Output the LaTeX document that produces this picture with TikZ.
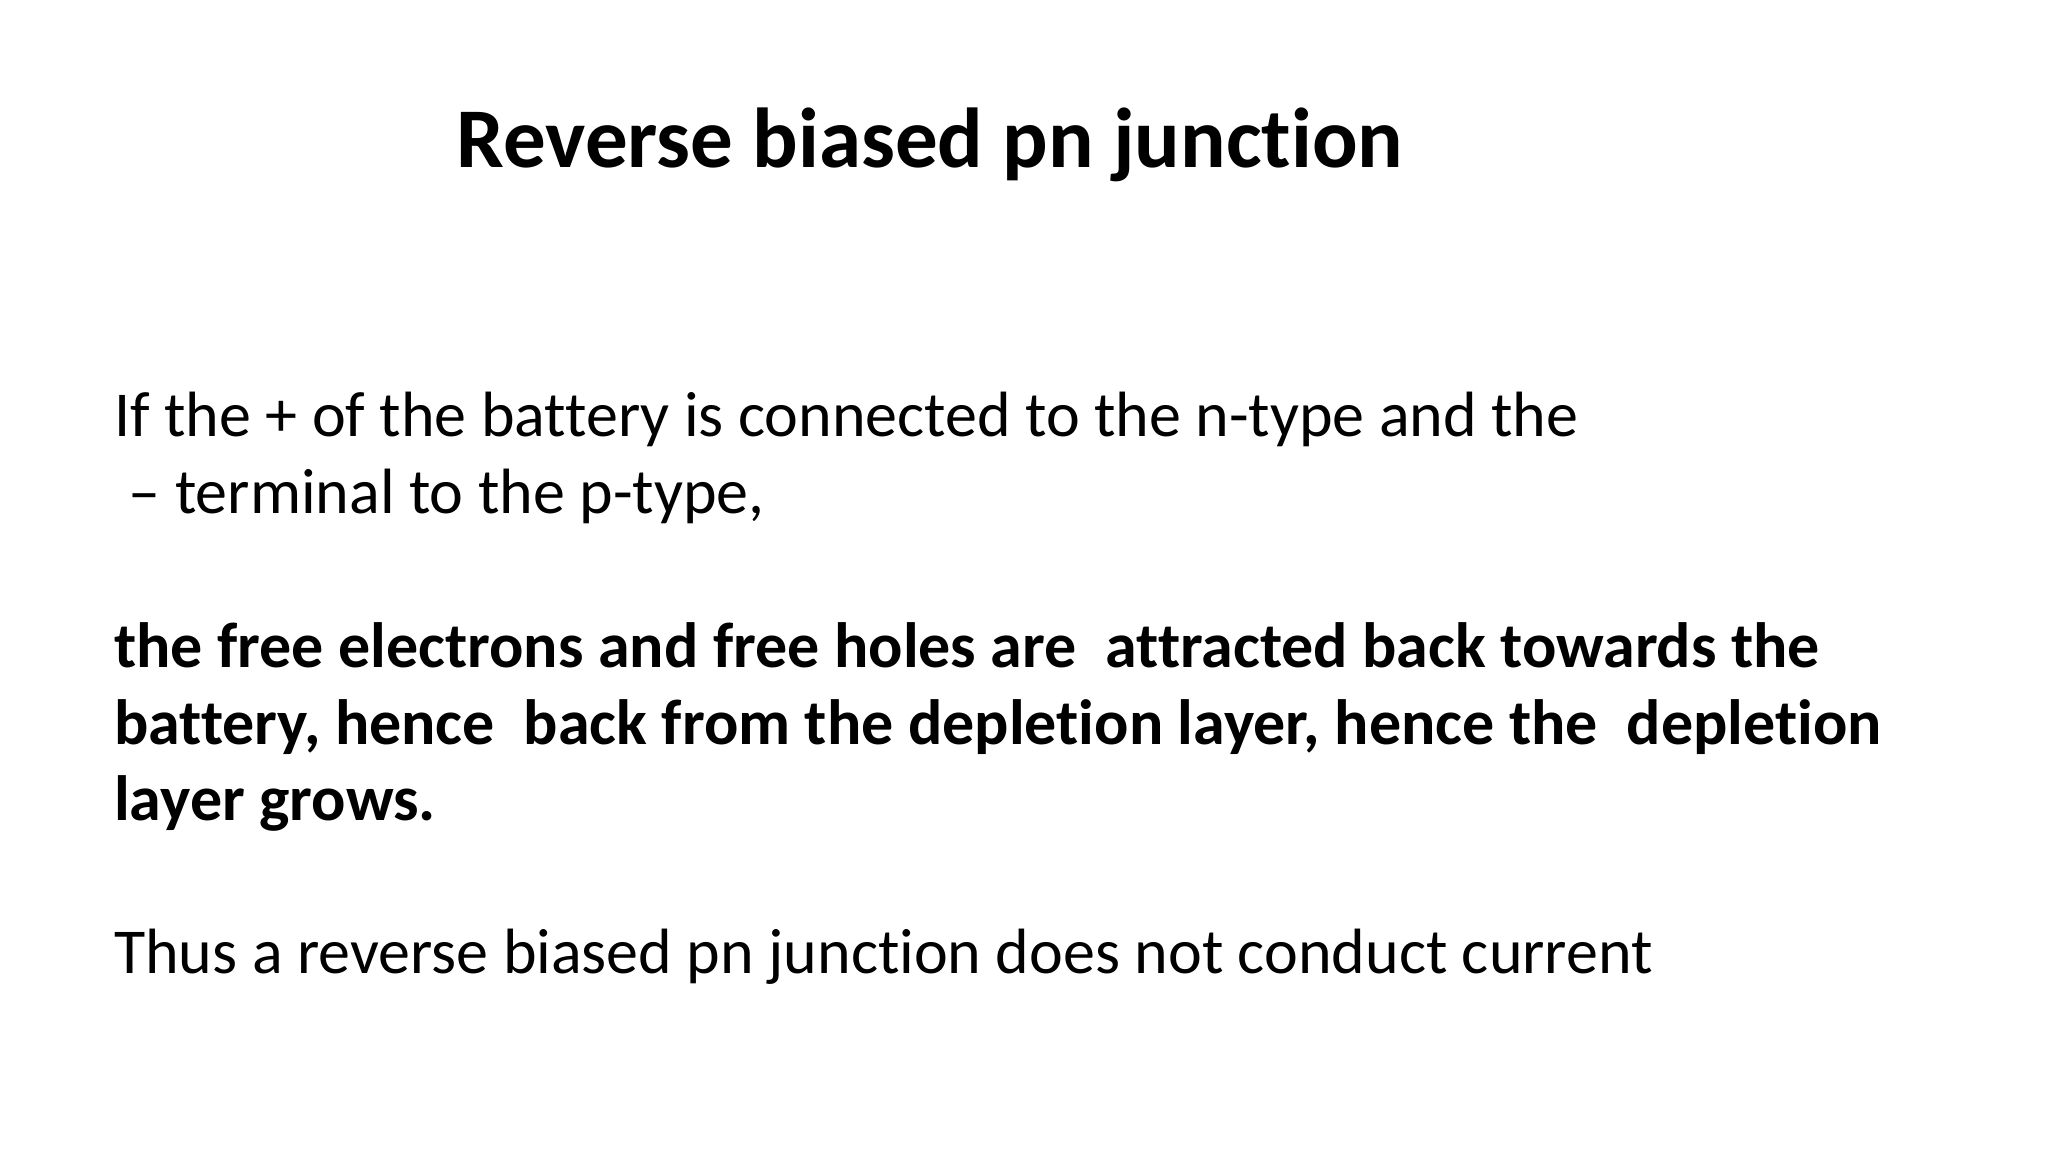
\documentclass[tikz,border=0pt]{standalone}
\usepackage{fontspec}
\setmainfont[Ligatures=NoCommon]{Carlito}
\tikzset{body/.style={anchor=base west,inner sep=0pt,font=\fontsize{64}{77}\selectfont},
boldbody/.style={body,font=\fontsize{64}{77}\selectfont\bfseries}}
\begin{document}
\begin{tikzpicture}[x=1pt,y=-1pt]
\useasboundingbox[fill=white] (0,0) rectangle (2048,1152);
\node[anchor=base,inner sep=0pt,font=\fontsize{85}{100}\selectfont\bfseries] (title) at (930,167) {Reverse biased pn junction};
\node[body] (l1) at (114,436) {If the + of the battery is connected to the n-type and the};
\node[body] (l2) at (114,513) {\ – terminal to the p-type,};
\node[boldbody] (l3) at (114,667) {the free electrons and free holes are\ \ attracted back towards the};
\node[boldbody] (l4) at (114,744) {battery, hence\ \ back from the depletion layer, hence the\ \ depletion};
\node[boldbody] (l5) at (114,820) {layer grows.};
\node[body] (l6) at (114,973) {Thus a reverse biased pn junction does not conduct current};
\end{tikzpicture}
\end{document}
